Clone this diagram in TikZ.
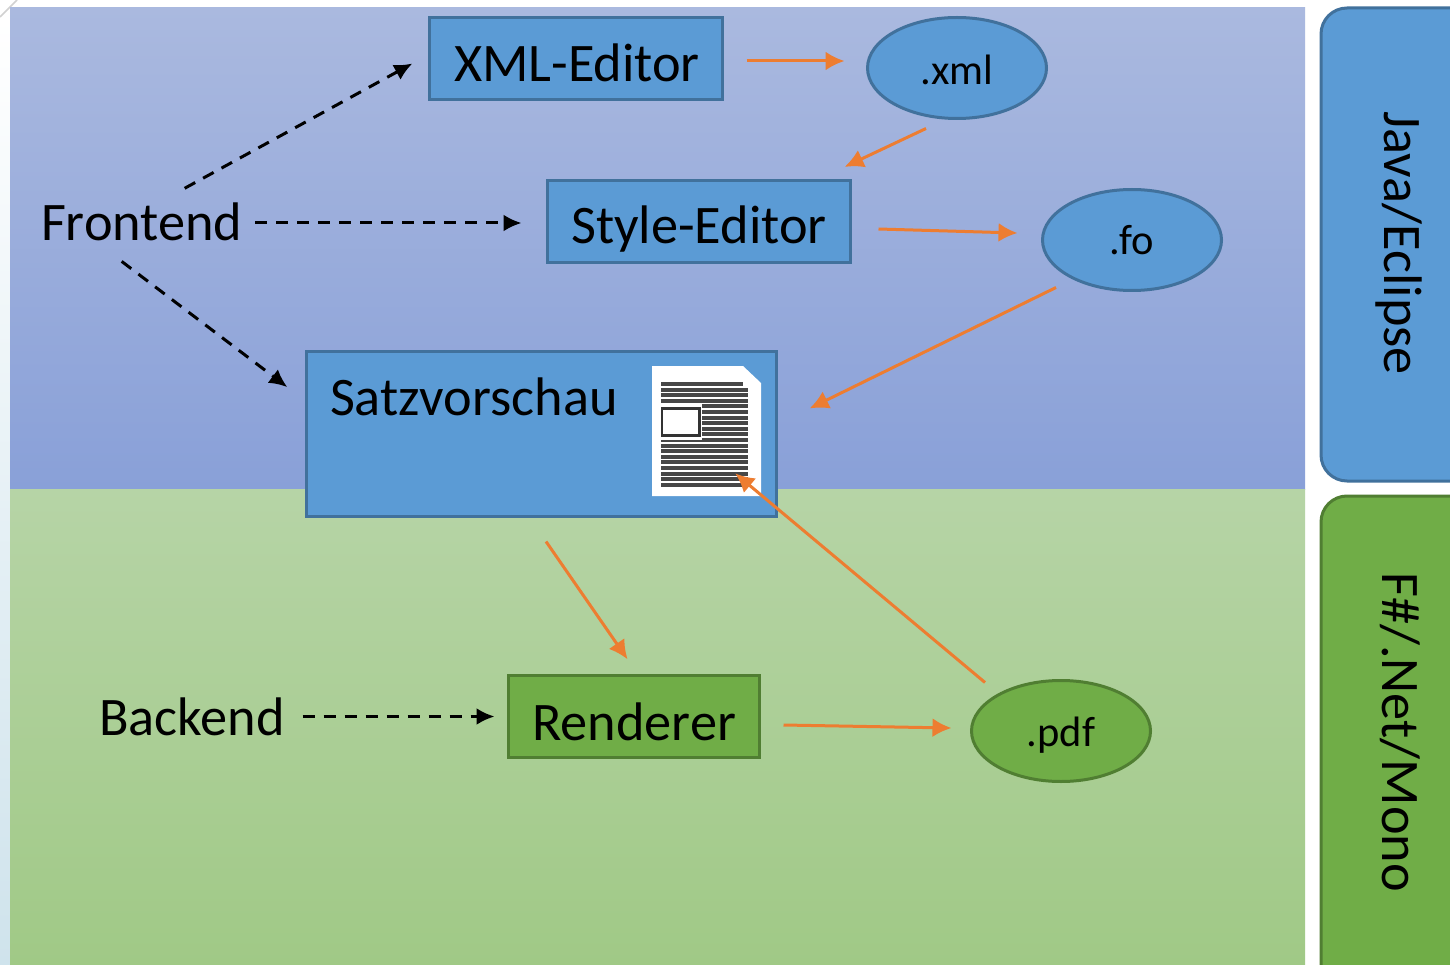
\documentclass[tikz,border=0pt]{standalone}
\usepackage{fontspec}
\setmainfont{Carlito}
\usetikzlibrary{arrows.meta,shapes.geometric}
\definecolor{blueF}{HTML}{5B9BD5}
\definecolor{blueB}{HTML}{41719C}
\definecolor{greenF}{HTML}{70AD47}
\definecolor{greenB}{HTML}{507E32}
\definecolor{orangeA}{HTML}{ED7D31}
\newcommand{\lowered}[2]{\raisebox{-#1pt}[\height][\depth]{#2}}
\tikzset{
  x=1pt,y=-1pt,
  boxn/.style={draw,line width=3pt,outer sep=0pt,minimum height=82pt,inner sep=0pt,font=\fontsize{54.3}{54.3}\selectfont,text=black},
  bluebox/.style={boxn,fill=blueF,draw=blueB},
  greenbox/.style={boxn,fill=greenF,draw=greenB},
  ell/.style={ellipse,draw,line width=3pt,outer sep=0pt,minimum width=179pt,minimum height=101pt,inner sep=0pt,font=\fontsize{42.5}{42.5}\selectfont,text=black},
  sidebar/.style={rounded corners=26pt,line width=3pt},
  sidetext/.style={font=\fontsize{54.3}{54.3}\selectfont,rotate=-90,inner sep=0pt,text=black},
  lbl/.style={font=\fontsize{54.3}{54.3}\selectfont,inner sep=0pt,outer sep=0pt,text=black},
  dasharrow/.style={draw=black,line width=3pt,dash pattern=on 12pt off 9pt,shorten >=-1pt,-{Latex[length=18pt,width=17pt]}},
  orangearrow/.style={draw=orangeA,line width=3pt,shorten >=-1pt,-{Latex[length=19pt,width=19pt]}},
}
\begin{document}
\begin{tikzpicture}
\useasboundingbox (0,0) rectangle (1450,965);
\fill[white] (0,0) rectangle (1450,965);
\shade[top color=white,bottom color={rgb,255:red,207;green,227;blue,236}] (0,17) rectangle (10,965);
\draw[black!18,line width=1.5pt] (0,17) -- (17,0);
\shade[top color={rgb,255:red,170;green,185;blue,223},bottom color={rgb,255:red,137;green,160;blue,216}] (10,7.5) rectangle (1305,489);
\shade[top color={rgb,255:red,182;green,212;blue,166},bottom color={rgb,255:red,160;green,201;blue,134}] (10,489) rectangle (1305,965);
\begin{scope}
\clip (0,0) rectangle (1450,965);
\draw[sidebar,fill=blueF,draw=blueB] (1321,8) rectangle (1490,481);
\draw[sidebar,fill=greenF,draw=greenB] (1321,496) rectangle (1490,1000);
\end{scope}
\node[sidetext] (java) at (1399,243) {Java/Eclipse};
\node[sidetext] (fsharp) at (1400,732) {F\#/.Net/Mono};
\node[bluebox,minimum width=293pt] (xml) at (576,59) {\lowered{4}{\hspace{2pt}XML-Editor}};
\node[bluebox,minimum width=303pt] (style) at (699,221.5) {\lowered{7.5}{Style-Editor}};
\node[bluebox,minimum width=470pt,minimum height=165pt] (satz) at (541.5,434) {};
\node[lbl,anchor=base west] (satztext) at (330,415) {Satzvorschau};
\node[greenbox,minimum width=251pt] (renderer) at (634,716.5) {\lowered{5}{Renderer}};
\node[ell,fill=blueF,draw=blueB] (xmlf) at (957,68) {\lowered{1.5}{.xml}};
\node[ell,fill=blueF,draw=blueB] (fo) at (1132,240) {\lowered{0.5}{.fo}};
\node[ell,fill=greenF,draw=greenB] (pdf) at (1061,731) {\lowered{4.5}{.pdf}};
\node[lbl,anchor=base west] (frontend) at (41,241) {Frontend};
\node[lbl,anchor=base west] (backend) at (99,735) {Backend};
% document icon
\fill[white] (652,366) -- (743,366) -- (761,383) -- (761,496) -- (652,496) -- cycle;
\foreach \i in {0,...,18} {
  \pgfmathsetmacro{\yy}{384+5.6*\i}
  \draw[black!72,line width=4pt] (661,\yy) -- (\ifnum\i=0 743\else 748\fi,\yy);
}
\fill[white] (659,404) rectangle (702,440);
\draw[black!80,line width=2.5pt] (662,408.5) rectangle (699.5,435.5);
\coordinate (docpoint) at (736,474);
% dashed arrows
\draw[dasharrow] ([xshift=43pt,yshift=15pt]frontend.north) -- ([xshift=-18pt,yshift=-5pt]xml.west);
\draw[dasharrow] ([xshift=13pt,yshift=-1.5pt]frontend.east |- style.west) -- ([xshift=-27pt,yshift=-1.5pt]style.west);
\draw[dasharrow] ([xshift=-20pt,yshift=-20pt]frontend.south) -- ([xshift=-20pt,yshift=-35pt]satz.north west);
\draw[dasharrow] ([xshift=18pt]backend.east |- renderer.west) -- ([xshift=-15pt]renderer.west);
% orange arrows
\draw[orangearrow] ([xshift=24pt,yshift=-2pt]xml.east) -- ([xshift=-24pt,yshift=7pt]xmlf.west);
\draw[orangearrow] ([xshift=-31pt,yshift=-10pt]xmlf.south) -- ([xshift=-5pt,yshift=14pt]style.north east);
\draw[orangearrow] ([xshift=28pt,yshift=-7.5pt]style.east) -- ([xshift=-26pt,yshift=7pt]fo.west);
\draw[orangearrow] ([xshift=-76pt,yshift=3pt]fo.south) -- ([xshift=34pt,yshift=26pt]satz.east);
\draw[orangearrow] ([xshift=4.5pt,yshift=-25pt]satz.south) -- ([xshift=-7pt,yshift=17pt]renderer.north);
\draw[orangearrow] ([xshift=-76pt,yshift=-2pt]pdf.north) -- (docpoint);
\draw[orangearrow] ([xshift=24pt,yshift=-8.5pt]renderer.east) -- ([xshift=-21pt,yshift=3pt]pdf.west);
\end{tikzpicture}
\end{document}
